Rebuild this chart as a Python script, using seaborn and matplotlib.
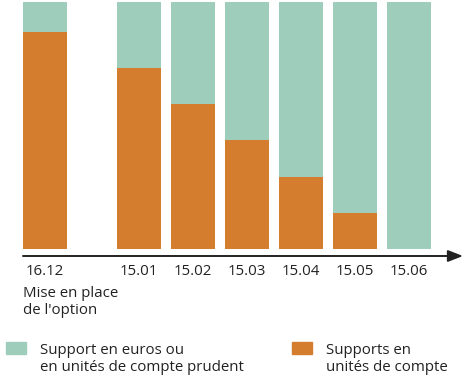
import numpy as np
import pandas as pd
import matplotlib.pyplot as plt
import matplotlib.patches as mpatches
from matplotlib.legend_handler import HandlerPatch
import seaborn as sns

# data
dates = ['16.12', '15.01', '15.02', '15.03', '15.04', '15.05', '15.06']
uc_share = [88, 73.3, 58.7, 44, 29.3, 14.7, 0]          # supports en unités de compte
prudent_share = [12, 26.7, 41.3, 56, 70.7, 85.3, 100]   # support en euros / UC prudent
first_note = "Mise en place\nde l'option"
label_prudent = 'Support en euros ou\nen unités de compte prudent'
label_uc = 'Supports en\nunités de compte'

teal = '#9fcdbb'
orange = '#d57d2e'
fs = 10.8

# x layout: gap after the first date
pos = [0, 1.74, 2.74, 3.74, 4.74, 5.74, 6.74]
df = pd.DataFrame({'pos': pos, 'uc': uc_share,
                   'total': np.array(uc_share) + np.array(prudent_share)})

sns.set_style('white')
plt.rcParams['font.family'] = ['Open Sans', 'DejaVu Sans']

fig = plt.figure(figsize=(4.74, 3.81), dpi=100)
W, H = 474, 381
ax = fig.add_axes([23 / W, (H - 256) / H, 440 / W, 255 / H])

sns.barplot(data=df, x='pos', y='total', native_scale=True, width=0.815,
            color=teal, saturation=1, linewidth=0, ax=ax)
sns.barplot(data=df, x='pos', y='uc', native_scale=True, width=0.815,
            color=orange, saturation=1, linewidth=0, ax=ax)

ax.set_xlim(-22 / 54, 418 / 54)
ax.set_ylim(-7 / 248 * 100, 100.4)
for s in ax.spines.values():
    s.set_visible(False)
ax.set_yticks([])
ax.set_xticks(pos, dates)
ax.tick_params(axis='x', length=0, pad=6, labelsize=fs, labelcolor='#222222')
ax.set_xlabel('')
ax.set_ylabel('')

# axis arrow
ax.annotate('', xy=(1, 0), xycoords='axes fraction', xytext=(0, 0),
            textcoords='axes fraction',
            arrowprops=dict(arrowstyle='-|>,head_length=0.9,head_width=0.35',
                            color='#222222', lw=1.4, shrinkA=0, shrinkB=0))

fig.text(23 / W, 1 - 286 / H, first_note, ha='left', va='top', fontsize=fs,
         color='#222222', linespacing=1.15)


# legend boxes sit on the first text line
def top_box(legend, orig_handle, xdescent, ydescent, width, height, fontsize):
    return mpatches.Rectangle((-xdescent, -ydescent + 0.75 * fontsize), width, height)


handles = [mpatches.Patch(color=teal, label=label_prudent),
           mpatches.Patch(color=orange, label=label_uc)]
leg = fig.legend(handles=handles, ncol=2, loc='upper left',
                 bbox_to_anchor=(6 / W, 1 - 343 / H), frameon=False,
                 borderpad=0, borderaxespad=0,
                 fontsize=fs, handlelength=1.33, handleheight=0.8,
                 handletextpad=0.95, columnspacing=3.2, labelcolor='#222222',
                 handler_map={mpatches.Patch: HandlerPatch(patch_func=top_box)})
for t in leg.get_texts():
    t.set_linespacing(1.15)

fig.savefig('out.png', dpi=100)
